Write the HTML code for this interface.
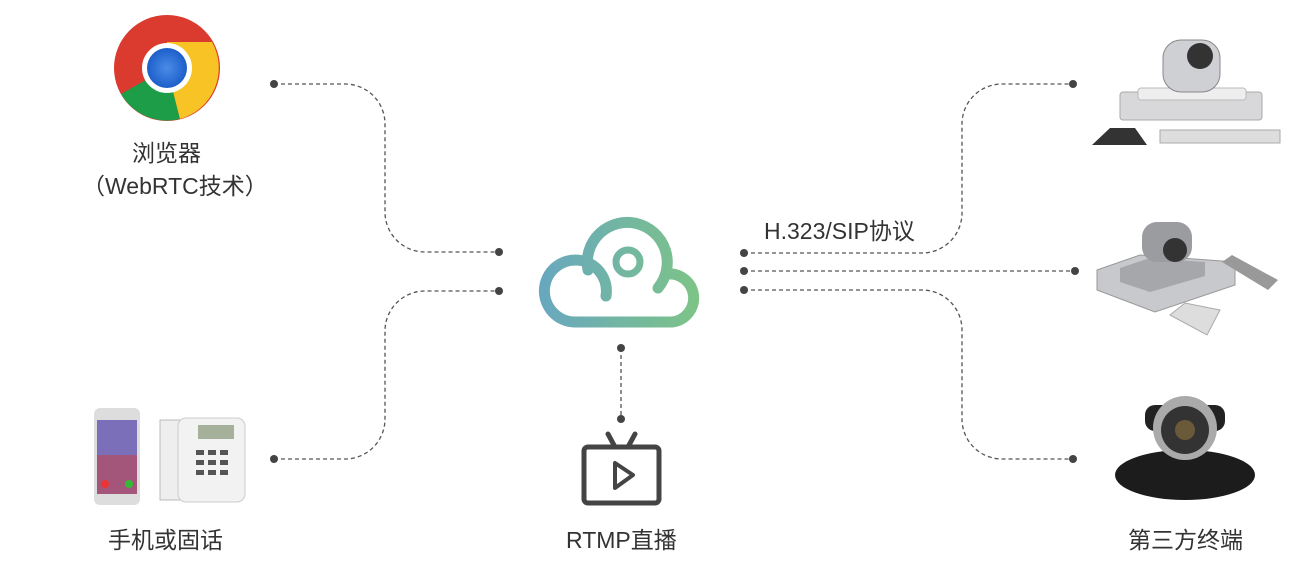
<!DOCTYPE html>
<html><head><meta charset="utf-8"><style>
html,body{margin:0;padding:0;background:#fff;}
.t{position:absolute;font-family:"Liberation Sans","Noto Sans CJK SC",sans-serif;font-size:23px;color:#333;white-space:nowrap;}
</style></head><body>
<div style="position:relative;width:1309px;height:586px;overflow:hidden;">
<svg width="1309" height="586" style="position:absolute;left:0;top:0">
<defs>
<linearGradient id="g" x1="543" y1="0" x2="700" y2="0" gradientUnits="userSpaceOnUse">
<stop offset="0" stop-color="#68a8be"/><stop offset="1" stop-color="#7dc486"/></linearGradient>
<radialGradient id="ch" cx="0.5" cy="0.5" r="0.5"><stop offset="0" stop-color="#4a8be8"/><stop offset="1" stop-color="#1d5fc9"/></radialGradient>
</defs>
<g fill="none" stroke="#555" stroke-width="1.3" stroke-dasharray="4 3">
<path d="M274 84 H345 A40 40 0 0 1 385 124 V212 A40 40 0 0 0 425 252 H499"/>
<path d="M274 459 H345 A40 40 0 0 0 385 419 V331 A40 40 0 0 1 425 291 H499"/>
<path d="M744 253 H922 A40 40 0 0 0 962 213 V124 A40 40 0 0 1 1002 84 H1073"/>
<path d="M744 271 H1075"/>
<path d="M744 290 H922 A40 40 0 0 1 962 330 V419 A40 40 0 0 0 1002 459 H1073"/>
<path d="M621 348 V419"/>
</g>
<g fill="#444">
<circle cx="274" cy="84" r="4"/><circle cx="274" cy="459" r="4"/>
<circle cx="499" cy="252" r="4"/><circle cx="499" cy="291" r="4"/>
<circle cx="744" cy="253" r="4"/><circle cx="744" cy="271" r="4"/><circle cx="744" cy="290" r="4"/>
<circle cx="1073" cy="84" r="4"/><circle cx="1075" cy="271" r="4"/><circle cx="1073" cy="459" r="4"/>
<circle cx="621" cy="348" r="4"/><circle cx="621" cy="419" r="4"/>
</g>
<g fill="none" stroke="url(#g)" stroke-width="11" stroke-linecap="round">
<path d="M606 296 A31 31 0 1 0 575 322 H672 A22 22 0 1 0 667 274"/>
<path d="M588 270 A40 40 0 1 1 658 288"/>
<circle cx="628" cy="262" r="12" stroke-width="7"/>
</g>
<g fill="none" stroke="#444" stroke-width="5" stroke-linecap="round" stroke-linejoin="round">
<rect x="584" y="447" width="75" height="56" rx="4"/>
<path d="M608 434 L615 447 M635 434 L628 447"/>
<path d="M615 463 L615 488 L633 475 Z" stroke-width="4"/>
</g>
<!-- chrome -->
<circle cx="167" cy="68" r="53" fill="#db3a2f"/>
<path d="M167 68 L121 94 A53 53 0 0 0 180 119 Z" fill="#1e9d48"/>
<path d="M167 68 L180 119 A53 53 0 0 0 212 42 L167 42 Z" fill="#f8c325"/>
<circle cx="167" cy="68" r="25" fill="#fff"/>
<circle cx="167" cy="68" r="20" fill="url(#ch)"/>
<!-- phones -->
<rect x="94" y="408" width="46" height="97" rx="6" fill="#ddd"/>
<rect x="97" y="420" width="40" height="74" fill="#a3567a"/>
<rect x="97" y="420" width="40" height="35" fill="#7a6fb8"/>
<circle cx="105" cy="484" r="4" fill="#e33"/><circle cx="129" cy="484" r="4" fill="#3b3"/>
<path d="M160 420 h20 v80 h-20 z" fill="#eee" stroke="#bbb"/>
<rect x="178" y="418" width="67" height="84" rx="8" fill="#f2f2f2" stroke="#ccc"/>
<rect x="198" y="425" width="36" height="14" fill="#a6b19b"/>
<g fill="#555"><rect x="196" y="450" width="8" height="5"/><rect x="208" y="450" width="8" height="5"/><rect x="220" y="450" width="8" height="5"/><rect x="196" y="460" width="8" height="5"/><rect x="208" y="460" width="8" height="5"/><rect x="220" y="460" width="8" height="5"/><rect x="196" y="470" width="8" height="5"/><rect x="208" y="470" width="8" height="5"/><rect x="220" y="470" width="8" height="5"/></g>
<!-- device 1 -->
<rect x="1120" y="92" width="142" height="28" rx="3" fill="#d8d8da" stroke="#aaa"/>
<rect x="1138" y="88" width="108" height="12" rx="3" fill="#eee" stroke="#bbb"/>
<rect x="1163" y="40" width="57" height="52" rx="18" fill="#cfd0d3" stroke="#888"/>
<circle cx="1200" cy="56" r="13" fill="#333"/>
<path d="M1092 145 L1110 128 H1135 L1147 145 Z" fill="#333"/>
<rect x="1160" y="130" width="120" height="13" fill="#ddd" stroke="#aaa"/>
<!-- device 2 -->
<path d="M1097 270 L1140 255 L1235 262 L1235 285 L1155 312 L1097 290 Z" fill="#c8c9cc" stroke="#999"/>
<path d="M1120 268 L1150 258 L1205 262 L1205 276 L1150 292 L1120 282 Z" fill="#a6a7aa"/>
<rect x="1142" y="222" width="50" height="40" rx="15" fill="#9a9ca0"/>
<circle cx="1175" cy="250" r="12" fill="#333"/>
<path d="M1222 262 L1232 255 L1278 280 L1268 290 Z" fill="#999"/>
<path d="M1170 315 L1185 303 L1220 310 L1207 335 Z" fill="#ddd" stroke="#aaa"/>
<!-- device 3 -->
<ellipse cx="1185" cy="475" rx="70" ry="25" fill="#1c1c1c"/>
<rect x="1145" y="405" width="80" height="26" rx="10" fill="#222"/>
<circle cx="1185" cy="428" r="32" fill="#aaa"/>
<circle cx="1185" cy="430" r="24" fill="#333"/>
<circle cx="1185" cy="430" r="10" fill="#6a5a3a"/>
</svg>
<div class="t" style="left:132px;top:134px;">浏览器</div>
<div class="t" style="left:82px;top:167px;">（WebRTC技术）</div>
<div class="t" style="left:108px;top:521px;">手机或固话</div>
<div class="t" style="left:566px;top:521px;">RTMP直播</div>
<div class="t" style="left:1128px;top:521px;">第三方终端</div>
<div class="t" style="left:764px;top:212px;">H.323/SIP协议</div>
</div>
</body></html>
